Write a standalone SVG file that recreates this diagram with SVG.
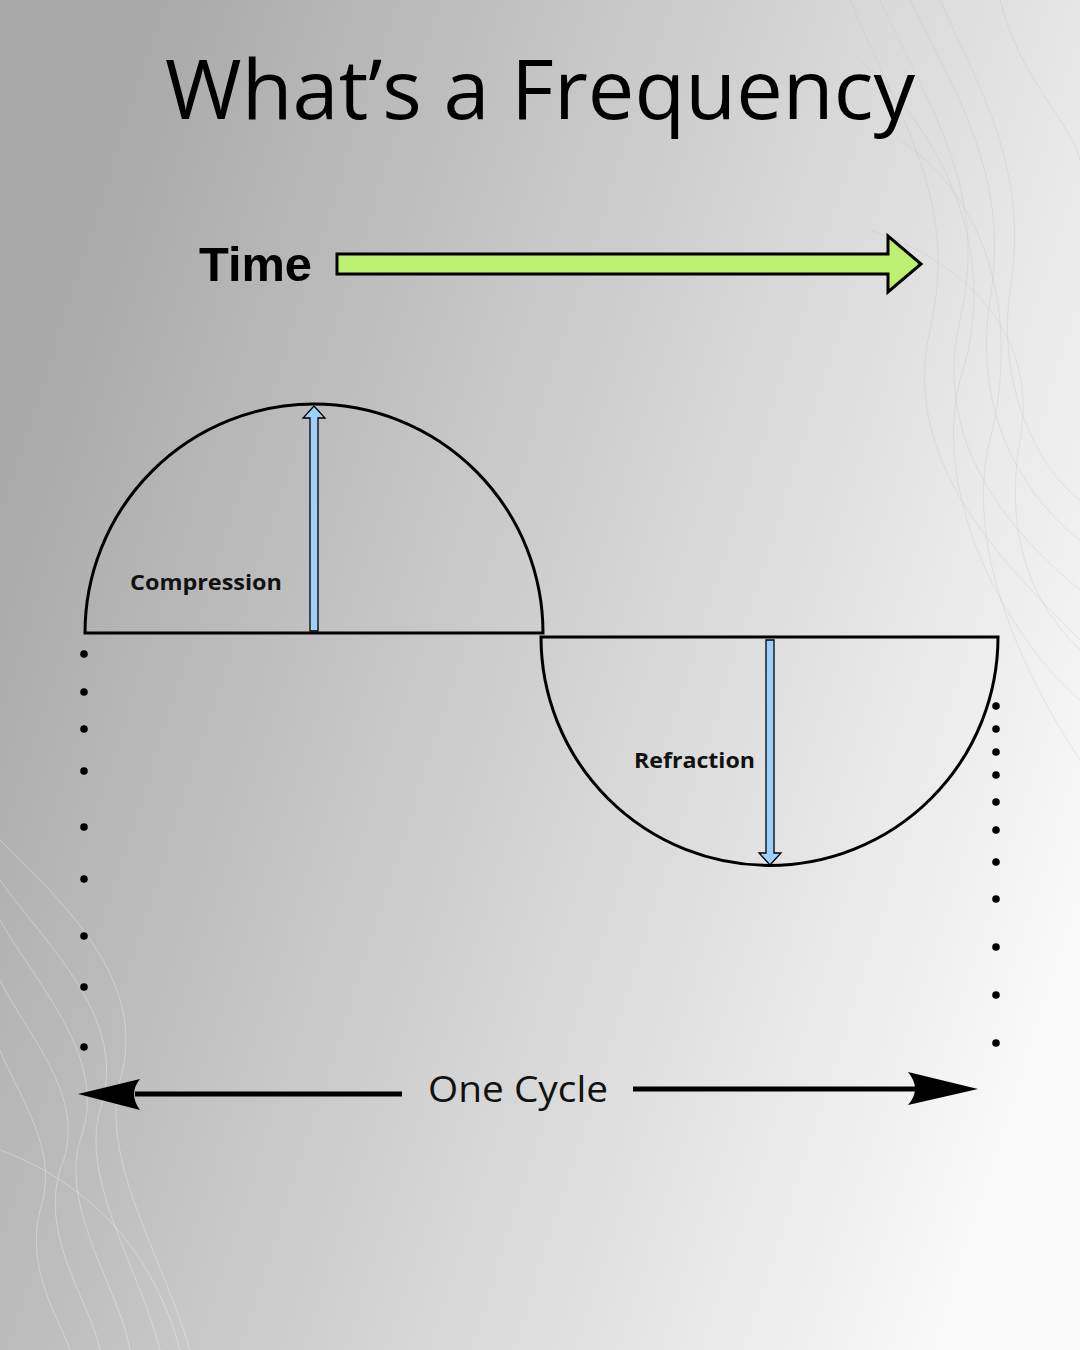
<svg xmlns="http://www.w3.org/2000/svg" width="1080" height="1350" viewBox="0 0 1080 1350">
<defs>
<linearGradient id="bg" x1="0" y1="0.35" x2="1" y2="0.75">
<stop offset="0" stop-color="#a9a9a9"/>
<stop offset="0.55" stop-color="#d6d6d6"/>
<stop offset="1" stop-color="#fbfbfb"/>
</linearGradient>
</defs>
<style>
.wave{fill:none;stroke:#ffffff;stroke-width:0.7;opacity:0.45}
.wave2{fill:none;stroke:#bdbdbd;stroke-width:0.6;opacity:0.5}
.shape{fill:none;stroke:#000;stroke-width:3}
.blue{fill:#9fd0fa;stroke:#000;stroke-width:1.3}
.dot{fill:#000}
.lbl{font-family:"Open Sans","Liberation Sans",sans-serif;font-weight:700;fill:#111}
</style>
<rect width="1080" height="1350" fill="url(#bg)"/>
<g id="decor">
<path class="wave2" d="M850 0 C900 120 960 200 930 330 C900 460 1000 560 1080 640"/>
<path class="wave2" d="M880 0 C930 110 990 190 960 320 C930 450 1020 540 1080 590"/>
<path class="wave2" d="M910 0 C960 100 1010 180 990 300 C970 430 1040 510 1080 540"/>
<path class="wave2" d="M940 0 C980 90 1030 170 1010 290 C995 400 1050 480 1080 500"/>
<path class="wave2" d="M860 60 C950 140 1000 260 960 380 C930 500 1010 640 1080 700"/>
<path class="wave2" d="M900 140 C990 200 1020 320 990 440 C960 560 1040 700 1080 760"/>
<path class="wave2" d="M1000 0 C1020 80 1070 120 1080 160"/>
<path class="wave2" d="M870 230 C960 260 1040 330 1020 440 C1000 560 1050 620 1080 650"/>
<path class="wave" d="M0 840 C60 900 150 980 120 1080 C100 1160 160 1250 190 1350"/>
<path class="wave" d="M0 880 C50 950 130 1020 100 1110 C80 1180 140 1270 160 1350"/>
<path class="wave" d="M0 920 C40 990 110 1060 80 1140 C60 1210 120 1290 130 1350"/>
<path class="wave" d="M0 980 C30 1040 90 1100 60 1170 C40 1240 90 1300 100 1350"/>
<path class="wave" d="M0 1050 C20 1100 60 1150 40 1210 C25 1270 60 1320 70 1350"/>
<path class="wave" d="M0 1150 C80 1180 150 1240 180 1350"/>
</g>
<g id="title">
<text x="165" y="119" font-family="'Open Sans','Liberation Sans',sans-serif" font-size="82" fill="#000" textLength="750" lengthAdjust="spacingAndGlyphs">What’s a Frequency</text>
</g>
<g id="time">
<text x="199" y="281" font-family="'Liberation Sans',Arial,sans-serif" font-weight="700" font-size="49" fill="#000" textLength="113" lengthAdjust="spacingAndGlyphs">Time</text>
<path d="M337 254 L888 254 L888 236 L921 264 L888 292 L888 274 L337 274 Z" fill="#bbf070" stroke="#000" stroke-width="3" stroke-linejoin="miter"/>
</g>
<g id="compression">
<path class="shape" d="M85 633 A229 229 0 0 1 543 633 Z"/>
<path class="blue" d="M310 631 L310 418 L303 418 L314 406 L325 418 L318 418 L318 631 Z"/>
<text class="lbl" x="130" y="590" font-size="21.5" textLength="152" lengthAdjust="spacingAndGlyphs">Compression</text>
</g>
<g id="refraction">
<path class="shape" d="M541 637 A228.5 228.5 0 0 0 998 637 Z"/>
<path class="blue" d="M766 640 L774 640 L774 853 L781 853 L770 865 L759 853 L766 853 Z"/>
<text class="lbl" x="634" y="768" font-size="21.5" textLength="121" lengthAdjust="spacingAndGlyphs">Refraction</text>
</g>
<g id="connectors">
<g id="dots-left" class="dot">
<circle cx="84" cy="654" r="3.8"/><circle cx="84" cy="692" r="3.8"/><circle cx="84" cy="729" r="3.8"/><circle cx="84" cy="771" r="3.8"/><circle cx="84" cy="827" r="3.8"/><circle cx="84" cy="879" r="3.8"/><circle cx="84" cy="936" r="3.8"/><circle cx="84" cy="987" r="3.8"/><circle cx="84" cy="1047" r="3.8"/>
</g>
<g id="dots-right" class="dot">
<circle cx="996" cy="706" r="3.8"/><circle cx="996" cy="729" r="3.8"/><circle cx="996" cy="752" r="3.8"/><circle cx="996" cy="775" r="3.8"/><circle cx="996" cy="802" r="3.8"/><circle cx="996" cy="830" r="3.8"/><circle cx="996" cy="862" r="3.8"/><circle cx="996" cy="899" r="3.8"/><circle cx="996" cy="947" r="3.8"/><circle cx="996" cy="995" r="3.8"/><circle cx="996" cy="1043" r="3.8"/>
</g>
<line x1="135" y1="1094" x2="402" y2="1094" stroke="#000" stroke-width="5"/>
<path d="M78 1094 L140 1079 Q128 1094 140 1110 Z" fill="#000"/>
<line x1="633" y1="1089" x2="915" y2="1089" stroke="#000" stroke-width="5"/>
<path d="M978 1089 L908 1072 Q922 1089 908 1105 Z" fill="#000"/>
</g>
<g id="onecycle">
<text x="428" y="1102" font-family="'Open Sans','Liberation Sans',sans-serif" font-size="36" fill="#111" textLength="180" lengthAdjust="spacingAndGlyphs">One Cycle</text>
</g>
</svg>
